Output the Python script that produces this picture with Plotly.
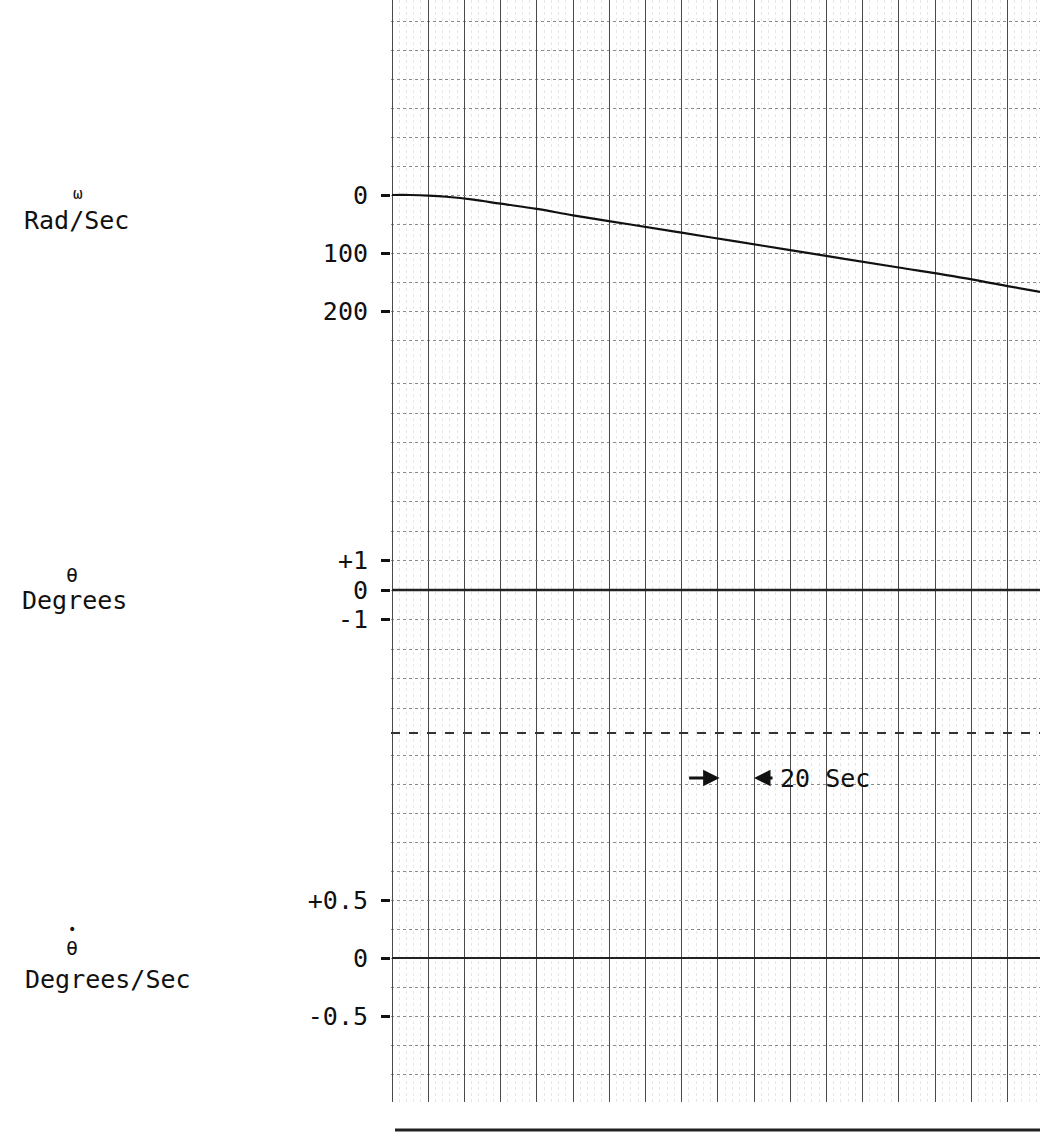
import plotly.graph_objects as go
from plotly.subplots import make_subplots

# ---------------- data ----------------
# time in seconds (one major division = 20 s)
time_omega = [0, 10, 20, 30, 45, 60, 80, 100, 130, 160, 190, 220, 250, 280, 310, 340, 358]
omega = [0, 0, 1, 3, 8, 15, 24, 35, 50, 65, 80, 95, 110, 125, 140, 157, 167]

time_theta = [0, 60, 120, 180, 240, 300, 358]
theta = [0, 0, 0, 0, 0, 0, 0]

time_thetadot = [0, 60, 120, 180, 240, 300, 358]
thetadot = [0, 0, 0, 0, 0, 0, 0]

omega_tickvals = [0, 100, 200]
omega_ticktext = ["0", "100", "200"]
theta_tickvals = [1, 0, -1]
theta_ticktext = ["+1", "0", "-1"]
thetadot_tickvals = [0.5, 0, -0.5]
thetadot_ticktext = ["+0.5", "0", "-0.5"]

scale_marker_start = 180
scale_marker_end = 200
scale_marker_label = "20 Sec"

# ---------------- layout geometry (pixels) ----------------
W, H = 1040, 1145
X_LEFT = 391          # left edge of chart paper
T0_PX = 392           # pixel of t = 0
PX_PER_SEC = 1.81

def py(p):
    return 1 - p / H

# channel bands (pixel rows) and value->pixel mappings
ch1 = (0, 370, 195, 0.58)      # top, bottom, zero px, px per unit
ch2 = (370, 733, 590, 29.5)
ch3 = (733, 1102, 958, 116.0)

def yrange(ch, reversed_axis=False):
    top, bot, zero, k = ch
    if reversed_axis:
        return [(bot - zero) / k, (top - zero) / k]
    return [(zero - bot) / k, (zero - top) / k]

FONT = "DejaVu Sans Mono"
INK = "#111111"
GRID_MAJOR = "#4a4a4a"
GRID_ROW = "#8a8a8a"

fig = make_subplots(rows=3, cols=1, shared_xaxes=True, vertical_spacing=0)

fig.add_trace(go.Scatter(x=time_omega, y=omega, mode="lines",
                         line=dict(color=INK, width=2.2), line_shape="spline",
                         showlegend=False), row=1, col=1)
fig.add_trace(go.Scatter(x=time_theta, y=theta, mode="lines",
                         line=dict(color="#222222", width=2.4),
                         showlegend=False), row=2, col=1)
fig.add_trace(go.Scatter(x=time_thetadot, y=thetadot, mode="lines",
                         line=dict(color="#222222", width=2.2),
                         showlegend=False), row=3, col=1)

xr = [(X_LEFT - T0_PX) / PX_PER_SEC, (W - T0_PX) / PX_PER_SEC]
xcommon = dict(range=xr, domain=[X_LEFT / W, 1], showticklabels=False, ticks="",
               showline=False, zeroline=True, zerolinecolor=GRID_MAJOR, zerolinewidth=1.2,
               showgrid=True, gridcolor=GRID_MAJOR, gridwidth=1.2,
               tick0=0, dtick=20,
               minor=dict(showgrid=True, dtick=4, tick0=0, gridcolor="#e6e6e6",
                          griddash="dot", gridwidth=1))
for i in (1, 2, 3):
    fig.update_xaxes(row=i, col=1, **xcommon)

ycommon = dict(showline=False, zeroline=False, ticks="outside", ticklen=9,
               tickwidth=2.5, tickcolor=INK, ticklabelstandoff=8,
               tickfont=dict(family=FONT, size=25, color=INK),
               showgrid=True, gridcolor=GRID_ROW, griddash="dot", gridwidth=1,
               automargin=False)

fig.update_yaxes(row=1, col=1, range=yrange(ch1, reversed_axis=True),
                 domain=[py(ch1[1]), py(ch1[0])],
                 tickmode="array", tickvals=omega_tickvals, ticktext=omega_ticktext,
                 minor=dict(showgrid=True, dtick=50, tick0=0, gridcolor=GRID_ROW,
                            griddash="dot", ticks=""),
                 **ycommon)
fig.update_yaxes(row=2, col=1, range=yrange(ch2),
                 domain=[py(ch2[1]), py(ch2[0])],
                 tickmode="array", tickvals=theta_tickvals, ticktext=theta_ticktext,
                 minor=dict(showgrid=True, dtick=1, tick0=0, gridcolor=GRID_ROW,
                            griddash="dot", ticks=""),
                 **ycommon)
fig.update_yaxes(row=3, col=1, range=yrange(ch3),
                 domain=[py(ch3[1]), py(ch3[0])],
                 tickmode="array", tickvals=thetadot_tickvals, ticktext=thetadot_ticktext,
                 minor=dict(showgrid=True, dtick=0.25, tick0=0, gridcolor=GRID_ROW,
                            griddash="dot", ticks=""),
                 **ycommon)

# channel separator (dashed) and bottom edge of the chart paper
fig.add_shape(type="line", xref="x2 domain", yref="y2 domain",
              x0=0, x1=1, y0=0, y1=0,
              line=dict(color="#333333", width=2, dash="dash"))
fig.add_shape(type="line", xref="paper", yref="paper",
              x0=395 / W, x1=1, y0=py(1130), y1=py(1130),
              line=dict(color="#222222", width=3))

ann = []
def label(text, xpx, ypx, size=25):
    ann.append(dict(text=text, x=xpx / W, y=py(ypx), xref="paper", yref="paper",
                    showarrow=False, xanchor="center", yanchor="middle",
                    font=dict(family=FONT, size=size, color=INK)))

label("ω", 78, 193, 16)
label("Rad/Sec", 76, 221)
label("θ", 72, 575, 20)
label("Degrees", 74, 600)
label("•", 72, 929, 14)
label("θ", 72, 948, 20)
label("Degrees/Sec", 108, 979)

# "-> <- 20 Sec" time scale marker
marker_y = (ch3[2] - 778) / ch3[3]
ann.append(dict(x=scale_marker_start + 1, y=marker_y, xref="x3", yref="y3",
                ax=-32, ay=0, text="", showarrow=True, arrowhead=2,
                arrowsize=1.1, arrowwidth=3, arrowcolor=INK, standoff=0))
ann.append(dict(x=scale_marker_end, y=marker_y, xref="x3", yref="y3",
                ax=20, ay=0, text="", showarrow=True, arrowhead=2,
                arrowsize=1.1, arrowwidth=3, arrowcolor=INK, standoff=0))
ann.append(dict(x=scale_marker_end + 13, y=marker_y, xref="x3", yref="y3",
                text=scale_marker_label, showarrow=False, xanchor="left",
                yanchor="middle", font=dict(family=FONT, size=25, color=INK)))

fig.update_layout(width=W, height=H, margin=dict(l=0, r=0, t=0, b=0),
                  paper_bgcolor="white", plot_bgcolor="white",
                  annotations=ann, showlegend=False)

fig.write_html("out.html")
